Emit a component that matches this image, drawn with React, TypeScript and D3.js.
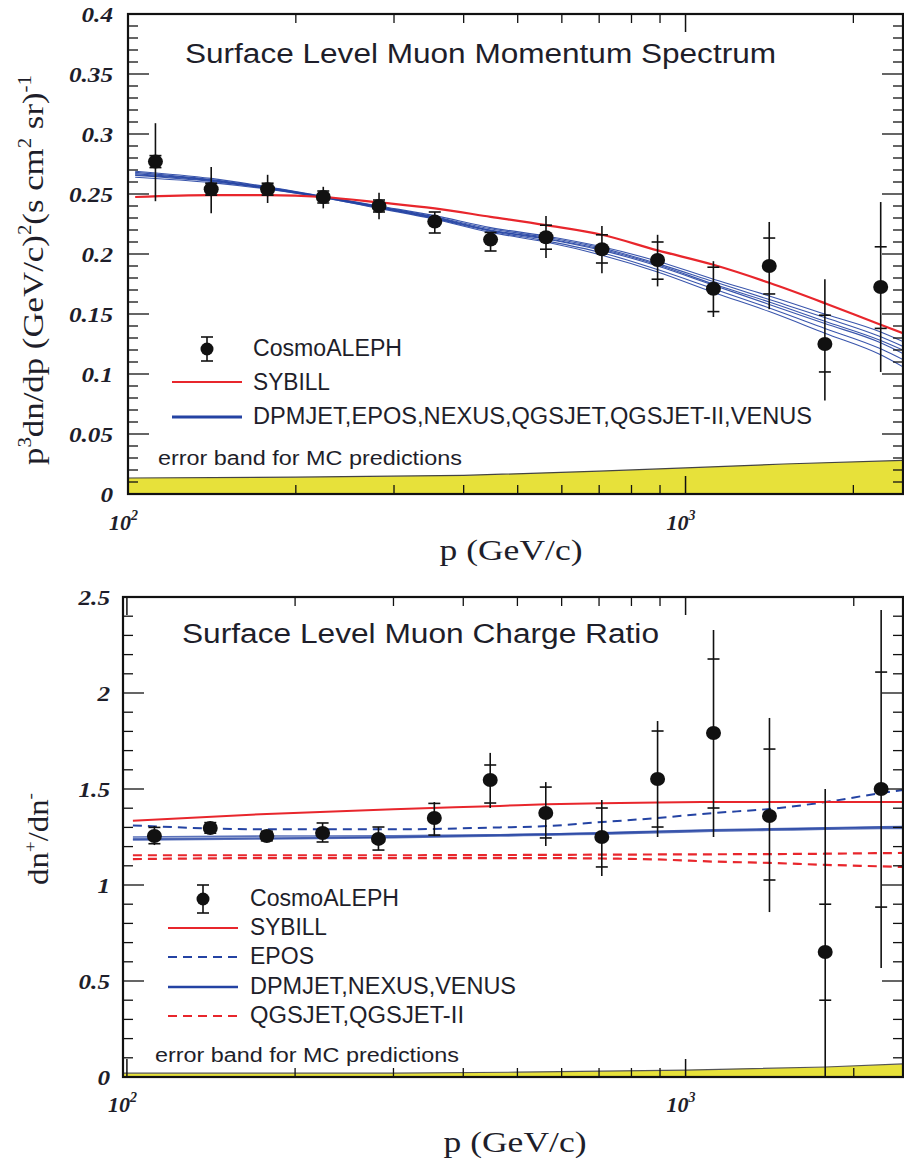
import React from "react";
import * as d3 from "d3";

// ---------- data: top panel (momentum spectrum) ----------
const muX = [112, 141, 178, 224, 282, 355, 447, 562, 708, 891, 1122, 1413, 1778, 2239];
const specY = [0.277, 0.254, 0.254, 0.2475, 0.24, 0.227, 0.212, 0.214, 0.204, 0.195, 0.171, 0.19, 0.125, 0.1725];
const specStatLo = [0.272, 0.249, 0.249, 0.2425, 0.235, 0.2175, 0.2025, 0.204, 0.1925, 0.179, 0.152, 0.1667, 0.1017, 0.138];
const specStatHi = [0.282, 0.259, 0.259, 0.2525, 0.245, 0.235, 0.218, 0.224, 0.216, 0.21, 0.189, 0.2133, 0.149, 0.206];
const specTotLo = [0.244, 0.234, 0.2425, 0.238, 0.229, 0.2175, 0.2025, 0.1967, 0.184, 0.173, 0.1475, 0.154, 0.078, 0.1017];
const specTotHi = [0.309, 0.2725, 0.266, 0.256, 0.251, 0.235, 0.218, 0.2317, 0.2233, 0.216, 0.194, 0.2267, 0.179, 0.2433];

const curveX = [103, 141, 178, 224, 282, 355, 447, 562, 708, 891, 1122, 1413, 1778, 2239, 2455];
const sybillSpec = [0.2475, 0.249, 0.249, 0.2475, 0.243, 0.238, 0.231, 0.224, 0.216, 0.203, 0.191, 0.176, 0.159, 0.141, 0.134];
const mcSpecA = [0.269, 0.263, 0.256, 0.248, 0.24, 0.232, 0.222, 0.215, 0.206, 0.194, 0.179, 0.165, 0.15, 0.135, 0.127];
const mcSpecB = [0.268, 0.262, 0.2555, 0.2478, 0.2395, 0.231, 0.221, 0.214, 0.205, 0.192, 0.177, 0.162, 0.147, 0.131, 0.123];
const mcSpecC = [0.267, 0.2615, 0.255, 0.2475, 0.239, 0.2305, 0.22, 0.213, 0.204, 0.191, 0.175, 0.16, 0.144, 0.128, 0.12];
const mcSpecD = [0.266, 0.261, 0.2548, 0.2475, 0.239, 0.23, 0.2195, 0.2125, 0.203, 0.19, 0.174, 0.158, 0.142, 0.126, 0.117];
const mcSpecE = [0.2655, 0.2605, 0.2545, 0.247, 0.2385, 0.2295, 0.219, 0.211, 0.201, 0.187, 0.171, 0.155, 0.138, 0.121, 0.112];
const mcSpecF = [0.264, 0.2595, 0.254, 0.247, 0.238, 0.229, 0.218, 0.21, 0.199, 0.185, 0.168, 0.152, 0.134, 0.116, 0.106];

const bandSpecX = [98, 200, 400, 700, 1000, 1500, 2455];
const bandSpecTop = [0.0133, 0.014, 0.0155, 0.019, 0.0217, 0.025, 0.028];

// ---------- data: bottom panel (charge ratio) ----------
const ratioY = [1.255, 1.297, 1.255, 1.271, 1.24, 1.349, 1.547, 1.375, 1.25, 1.552, 1.792, 1.359, 0.651, 1.5];
const ratioStatLo = [1.215, 1.27, 1.23, 1.224, 1.182, 1.26, 1.427, 1.245, 1.094, 1.302, 1.401, 1.026, 0.4, 0.885];
const ratioStatHi = [1.3, 1.325, 1.28, 1.323, 1.302, 1.425, 1.625, 1.51, 1.401, 1.802, 2.177, 1.708, 0.9, 2.109];
const ratioTotLo = [1.208, 1.265, 1.225, 1.224, 1.182, 1.255, 1.401, 1.203, 1.047, 1.25, 1.25, 0.859, -0.1, 0.568];
const ratioTotHi = [1.307, 1.33, 1.285, 1.323, 1.302, 1.432, 1.688, 1.536, 1.443, 1.854, 2.328, 1.87, 1.5, 2.432];

const rCurveX = [102.5, 178, 300, 465, 564, 708, 891, 1120, 1413, 1780, 2240, 2455];
const sybillRatio = [1.335, 1.37, 1.395, 1.412, 1.42, 1.426, 1.43, 1.432, 1.432, 1.432, 1.432, 1.432];
const eposRatio = [1.31, 1.29, 1.29, 1.3, 1.307, 1.328, 1.349, 1.375, 1.396, 1.432, 1.479, 1.495];
const dpmjetRatio = [1.24, 1.245, 1.25, 1.26, 1.265, 1.27, 1.278, 1.285, 1.29, 1.295, 1.3, 1.3];
const nexusRatio = [1.235, 1.24, 1.247, 1.255, 1.26, 1.265, 1.272, 1.28, 1.285, 1.29, 1.294, 1.295];
const venusRatio = [1.25, 1.255, 1.256, 1.262, 1.266, 1.272, 1.28, 1.288, 1.293, 1.298, 1.303, 1.305];
const qgsjetRatio = [1.155, 1.155, 1.155, 1.156, 1.157, 1.158, 1.159, 1.16, 1.161, 1.163, 1.166, 1.167];
const qgsjet2Ratio = [1.135, 1.14, 1.14, 1.14, 1.14, 1.138, 1.133, 1.122, 1.115, 1.105, 1.097, 1.094];

const bandRatioX = [97, 300, 500, 1000, 1780, 2455];
const bandRatioTop = [0.02, 0.02, 0.025, 0.036, 0.052, 0.068];

const yTicksSpec = [0, 0.05, 0.1, 0.15, 0.2, 0.25, 0.3, 0.35, 0.4];
const yTicksRatio = [0, 0.5, 1, 1.5, 2, 2.5];

const RED = "#e8262c";
const BLUE = "#2443a3";
const YELLOW = "#e7e13a";
const TXT = "#1e1e2a";
const SANS = "'Liberation Sans', Arial, sans-serif";
const SERIF = "'Liberation Serif', 'Times New Roman', serif";

function numWidth(s: string, fs: number) {
  let w = 0;
  for (const ch of s) w += ch === "." ? 0.25 : 0.5;
  return w * fs * 1.2;
}

type PanelProps = {
  id: string;
  left: number;
  right: number;
  top: number;
  bottom: number;
  xDomain: [number, number];
  yMax: number;
  yMajor: number[];
  yMinorStep: number;
  yLabelFmt: (v: number) => string;
  labelGap: number;
  xLabelBase: number;
  xTitleBase: number;
  xTitleCenter: number;
  children: (x: d3.ScaleLogarithmic<number, number>, y: d3.ScaleLinear<number, number>) => React.ReactNode;
};

function Panel(p: PanelProps) {
  const x = d3.scaleLog().domain(p.xDomain).range([p.left, p.right]);
  const y = d3.scaleLinear().domain([0, p.yMax]).range([p.bottom, p.top]);
  const xMinor = [200, 300, 400, 500, 600, 700, 800, 900, 2000];
  const xMajor = [100, 1000];
  const nMinor = Math.round(p.yMax / p.yMinorStep);
  const yMinor = d3.range(0, nMinor + 1).map((i) => i * p.yMinorStep);
  const MAJ = 18;
  const MIN = 9;
  return (
    <g>
      <defs>
        <clipPath id={"clip-" + p.id}>
          <rect x={p.left} y={p.top} width={p.right - p.left} height={p.bottom - p.top} />
        </clipPath>
      </defs>
      <g clipPath={`url(#clip-${p.id})`}>{p.children(x, y)}</g>
      {xMinor.map((v) => (
        <g key={"xm" + v} stroke="#111" strokeWidth={1.3}>
          <line x1={x(v)} x2={x(v)} y1={p.bottom} y2={p.bottom - MIN} />
          <line x1={x(v)} x2={x(v)} y1={p.top} y2={p.top + MIN} />
        </g>
      ))}
      {xMajor.map((v) => (
        <g key={"xM" + v} stroke="#111" strokeWidth={1.5}>
          <line x1={x(v)} x2={x(v)} y1={p.bottom} y2={p.bottom - MAJ} />
          <line x1={x(v)} x2={x(v)} y1={p.top} y2={p.top + MAJ} />
        </g>
      ))}
      {yMinor.map((v, i) => {
        const major = p.yMajor.some((m) => Math.abs(m - v) < 1e-9);
        const len = major ? MAJ + 3 : MIN + 1;
        return (
          <g key={"ym" + i} stroke="#111" strokeWidth={1.3}>
            <line x1={p.left} x2={p.left + len} y1={y(v)} y2={y(v)} />
            <line x1={p.right} x2={p.right - len} y1={y(v)} y2={y(v)} />
          </g>
        );
      })}
      <rect x={p.left} y={p.top} width={p.right - p.left} height={p.bottom - p.top} fill="none" stroke="#111" strokeWidth={2.2} />
      {p.yMajor.map((v) => {
        const s = p.yLabelFmt(v);
        return (
          <text
            key={"yl" + v}
            x={p.left - p.labelGap}
            y={y(v)}
            dy="0.36em"
            textAnchor="end"
            fontFamily={SERIF}
            fontStyle="italic"
            fontWeight="bold"
            fontSize={21}
            fill={TXT}
            textLength={numWidth(s, 21)}
            lengthAdjust="spacingAndGlyphs"
          >
            {s}
          </text>
        );
      })}
      {xMajor.map((v, i) => (
        <text
          key={"xl" + v}
          x={x(v) - 19}
          y={p.xLabelBase}
          fontFamily={SERIF}
          fontStyle="italic"
          fontWeight="bold"
          fontSize={22}
          fill={TXT}
        >
          10
          <tspan fontSize={14} dy={-10}>
            {i === 0 ? "2" : "3"}
          </tspan>
        </text>
      ))}
      <text
        x={p.xTitleCenter}
        y={p.xTitleBase}
        textAnchor="middle"
        fontFamily={SERIF}
        fontSize={30}
        fill={TXT}
        textLength={143}
        lengthAdjust="spacingAndGlyphs"
      >
        p (GeV/c)
      </text>
    </g>
  );
}

function ErrPoint({ cx, cy, yStatLo, yStatHi, yTotLo, yTotHi }: { cx: number; cy: number; yStatLo: number; yStatHi: number; yTotLo: number; yTotHi: number }) {
  return (
    <g stroke="#111" strokeWidth={1.6}>
      <line x1={cx} x2={cx} y1={yTotLo} y2={yTotHi} />
      <line x1={cx - 6} x2={cx + 6} y1={yStatLo} y2={yStatLo} />
      <line x1={cx - 6} x2={cx + 6} y1={yStatHi} y2={yStatHi} />
      <ellipse cx={cx} cy={cy} rx={7.5} ry={7} fill="#111" stroke="none" />
    </g>
  );
}

function LegendMarker({ cx, cy, h }: { cx: number; cy: number; h: number }) {
  return (
    <g stroke="#111" strokeWidth={1.6}>
      <line x1={cx} x2={cx} y1={cy - h} y2={cy + h} />
      <line x1={cx - 6} x2={cx + 6} y1={cy - h} y2={cy - h} />
      <line x1={cx - 6} x2={cx + 6} y1={cy + h} y2={cy + h} />
      <circle cx={cx} cy={cy} r={6.5} fill="#111" stroke="none" />
    </g>
  );
}

function LegText({ x, y, w, fs = 23, children }: { x: number; y: number; w?: number; fs?: number; children: React.ReactNode }) {
  return (
    <text
      x={x}
      y={y}
      fontFamily={SANS}
      fontSize={fs}
      fill={TXT}
      textLength={w}
      lengthAdjust={w ? "spacingAndGlyphs" : undefined}
    >
      {children}
    </text>
  );
}

export default function App() {
  const mcSpec = [mcSpecA, mcSpecB, mcSpecC, mcSpecD, mcSpecE, mcSpecF];
  return (
    <svg width={904} height={1168} style={{ position: "absolute", left: 0, top: 0, background: "#fff" }}>
      {/* ================= TOP PANEL ================= */}
      <Panel
        id="top"
        left={128}
        right={903}
        top={14}
        bottom={494}
        xDomain={[100, 2455]}
        yMax={0.4}
        yMajor={yTicksSpec}
        yMinorStep={0.01}
        yLabelFmt={(v) => (v === 0 ? "0" : String(+v.toFixed(2)))}
        labelGap={15}
        xLabelBase={530}
        xTitleBase={560}
        xTitleCenter={511}
      >
        {(x, y) => {
          const line = d3
            .line<number>()
            .x((_, i) => x(curveX[i]))
            .y((d) => y(d))
            .curve(d3.curveMonotoneX);
          const area = d3
            .area<number>()
            .x((_, i) => x(bandSpecX[i]))
            .y0(y(0))
            .y1((d) => y(d));
          const bandLine = d3
            .line<number>()
            .x((_, i) => x(bandSpecX[i]))
            .y((d) => y(d));
          return (
            <g>
              <path d={area(bandSpecTop) || ""} fill={YELLOW} />
              <path d={bandLine(bandSpecTop) || ""} fill="none" stroke="#444" strokeWidth={1.2} />
              {mcSpec.map((s, k) => (
                <path key={k} d={line(s) || ""} fill="none" stroke={BLUE} strokeWidth={1.1} strokeOpacity={0.9} />
              ))}
              <path d={line(sybillSpec) || ""} fill="none" stroke={RED} strokeWidth={2.2} />
              {muX.map((xv, i) => (
                <ErrPoint
                  key={i}
                  cx={x(xv)}
                  cy={y(specY[i])}
                  yStatLo={y(specStatLo[i])}
                  yStatHi={y(specStatHi[i])}
                  yTotLo={y(specTotLo[i])}
                  yTotHi={y(specTotHi[i])}
                />
              ))}
            </g>
          );
        }}
      </Panel>
      <text x={185} y={63} fontFamily={SANS} fontSize={27} fill={TXT} textLength={591} lengthAdjust="spacingAndGlyphs">
        Surface Level Muon Momentum Spectrum
      </text>
      {/* legend top */}
      <LegendMarker cx={207} cy={349} h={12} />
      <LegText x={253} y={356} w={149}>CosmoALEPH</LegText>
      <line x1={172} x2={242} y1={382} y2={382} stroke={RED} strokeWidth={2} />
      <LegText x={253} y={390} w={77}>SYBILL</LegText>
      <line x1={172} x2={242} y1={417} y2={417} stroke={BLUE} strokeWidth={2.8} />
      <LegText x={253} y={424} w={559}>DPMJET,EPOS,NEXUS,QGSJET,QGSJET-II,VENUS</LegText>
      <LegText x={158} y={465} w={304} fs={20}>error band for MC predictions</LegText>
      {/* y title top */}
      <text
        transform="translate(43,270) rotate(-90)"
        textAnchor="middle"
        fontFamily={SERIF}
        fontSize={30}
        fill={TXT}
        textLength={390}
        lengthAdjust="spacingAndGlyphs"
      >
        p<tspan fontSize={18} dy={-12}>3</tspan>
        <tspan dy={12}>dn/dp (GeV/c)</tspan>
        <tspan fontSize={18} dy={-12}>2</tspan>
        <tspan dy={12}>(s cm</tspan>
        <tspan fontSize={18} dy={-12}>2</tspan>
        <tspan dy={12}> sr)</tspan>
        <tspan fontSize={18} dy={-12}>-1</tspan>
      </text>

      {/* ================= BOTTOM PANEL ================= */}
      <Panel
        id="bot"
        left={123}
        right={903}
        top={597}
        bottom={1077}
        xDomain={[98.4, 2450]}
        yMax={2.5}
        yMajor={yTicksRatio}
        yMinorStep={0.1}
        yLabelFmt={(v) => String(v)}
        labelGap={13}
        xLabelBase={1112}
        xTitleBase={1152}
        xTitleCenter={515}
      >
        {(x, y) => {
          const line = d3
            .line<number>()
            .x((_, i) => x(rCurveX[i]))
            .y((d) => y(d))
            .curve(d3.curveMonotoneX);
          const area = d3
            .area<number>()
            .x((_, i) => x(bandRatioX[i]))
            .y0(y(0))
            .y1((d) => y(d));
          const bandLine = d3
            .line<number>()
            .x((_, i) => x(bandRatioX[i]))
            .y((d) => y(d));
          return (
            <g>
              <path d={area(bandRatioTop) || ""} fill={YELLOW} />
              <path d={bandLine(bandRatioTop) || ""} fill="none" stroke="#555" strokeWidth={1.2} />
              {[dpmjetRatio, nexusRatio, venusRatio].map((s, k) => (
                <path key={k} d={line(s) || ""} fill="none" stroke={BLUE} strokeWidth={1.6} strokeOpacity={0.75} />
              ))}
              <path d={line(eposRatio) || ""} fill="none" stroke={BLUE} strokeWidth={2} strokeDasharray="9,6" />
              <path d={line(qgsjetRatio) || ""} fill="none" stroke={RED} strokeWidth={2.2} strokeDasharray="9,6" />
              <path d={line(qgsjet2Ratio) || ""} fill="none" stroke={RED} strokeWidth={2.2} strokeDasharray="9,6" />
              <path d={line(sybillRatio) || ""} fill="none" stroke={RED} strokeWidth={2} />
              {muX.map((xv, i) => (
                <ErrPoint
                  key={i}
                  cx={x(xv)}
                  cy={y(ratioY[i])}
                  yStatLo={y(ratioStatLo[i])}
                  yStatHi={y(ratioStatHi[i])}
                  yTotLo={y(ratioTotLo[i])}
                  yTotHi={y(ratioTotHi[i])}
                />
              ))}
            </g>
          );
        }}
      </Panel>
      <text x={182} y={643} fontFamily={SANS} fontSize={27} fill={TXT} textLength={477} lengthAdjust="spacingAndGlyphs">
        Surface Level Muon Charge Ratio
      </text>
      {/* legend bottom */}
      <LegendMarker cx={203} cy={899} h={14} />
      <LegText x={250} y={906} w={149}>CosmoALEPH</LegText>
      <line x1={168} x2={238} y1={928} y2={928} stroke={RED} strokeWidth={2} />
      <LegText x={250} y={935} w={77}>SYBILL</LegText>
      <line x1={168} x2={238} y1={957} y2={957} stroke={BLUE} strokeWidth={2.2} strokeDasharray="9,6" />
      <LegText x={250} y={964} w={64}>EPOS</LegText>
      <line x1={168} x2={238} y1={987} y2={987} stroke={BLUE} strokeWidth={2.6} />
      <LegText x={250} y={994} w={266}>DPMJET,NEXUS,VENUS</LegText>
      <line x1={168} x2={238} y1={1016} y2={1016} stroke={RED} strokeWidth={2.2} strokeDasharray="9,6" />
      <LegText x={250} y={1023} w={214}>QGSJET,QGSJET-II</LegText>
      <LegText x={155} y={1062} w={304} fs={20}>error band for MC predictions</LegText>
      {/* y title bottom */}
      <text
        transform="translate(48,839) rotate(-90)"
        textAnchor="middle"
        fontFamily={SERIF}
        fontSize={29}
        fill={TXT}
        textLength={92}
        lengthAdjust="spacingAndGlyphs"
      >
        dn<tspan fontSize={17} dy={-12}>+</tspan>
        <tspan dy={12}>/dn</tspan>
        <tspan fontSize={17} dy={-12}>-</tspan>
      </text>
    </svg>
  );
}
